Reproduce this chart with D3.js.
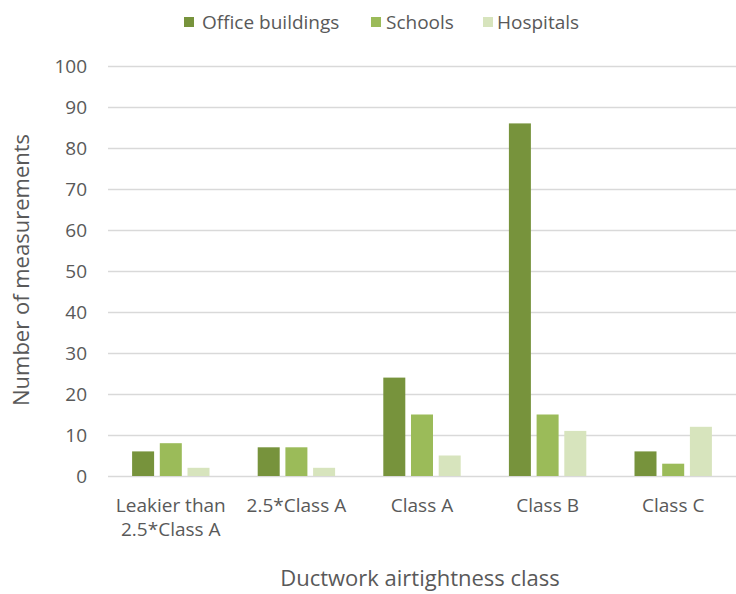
<!DOCTYPE html>
<html>
<head>
<meta charset="utf-8">
<script src="https://cdn.jsdelivr.net/npm/d3@7"></script>
<style>
  html, body { margin: 0; padding: 0; background: #fff; }
  svg text { font-family: "Open Sans", sans-serif; fill: #595959; }
</style>
</head>
<body>
<svg id="chart" width="736" height="594"></svg>
<script>
// Measurement counts per ductwork airtightness class
const categories = [["Leakier than", "2.5*Class A"], ["2.5*Class A"], ["Class A"], ["Class B"], ["Class C"]];
const seriesNames = ["Office buildings", "Schools", "Hospitals"];
const officeBuildings = [6, 7, 24, 86, 6];
const schools = [8, 7, 15, 15, 3];
const hospitals = [2, 2, 5, 11, 12];
const yTicks = [0, 10, 20, 30, 40, 50, 60, 70, 80, 90, 100];
const colors = ["#77933C", "#9BBB59", "#D7E4BD"];

const seriesValues = [officeBuildings, schools, hospitals];
const svg = d3.select("#chart");

const plot = { left: 108, right: 736, top: 66, bottom: 476 };
const catKeys = categories.map((c, i) => i);

const x = d3.scaleBand().domain(catKeys).range([plot.left, plot.right]).paddingInner(0).paddingOuter(0);
const y = d3.scaleLinear().domain([0, 100]).range([plot.bottom, plot.top]);

// Gridlines
svg.append("g").selectAll("line").data(yTicks).join("line")
  .attr("x1", plot.left).attr("x2", plot.right)
  .attr("y1", d => Math.round(y(d)) + 0.5).attr("y2", d => Math.round(y(d)) + 0.5)
  .attr("stroke", "#D9D9D9").attr("stroke-width", 1.3);

// Y-axis tick labels
const yAxis = d3.axisLeft(y).tickValues(yTicks).tickSize(0).tickPadding(0);
const yg = svg.append("g").attr("transform", `translate(87,0)`).call(yAxis);
yg.select(".domain").remove();
yg.selectAll("text").style("font-size", "19px").attr("fill", "#595959").attr("dy", "0.35em");

// Bars: three series side by side within each category band
const step = 27.7, barW = 22;
const groupOffset = (seriesNames.length * step - (step - barW)) / 2;
seriesValues.forEach((vals, si) => {
  svg.append("g").selectAll("rect").data(vals).join("rect")
    .attr("x", (d, i) => x(i) + x.bandwidth() / 2 - groupOffset + si * step)
    .attr("width", barW)
    .attr("y", d => y(d))
    .attr("height", d => y(0) - y(d))
    .attr("fill", colors[si]);
});

// Category labels (multi-line where needed)
const xl = svg.append("g");
categories.forEach((lines, i) => {
  const t = xl.append("text")
    .attr("x", x(i) + x.bandwidth() / 2)
    .attr("y", 512)
    .attr("text-anchor", "middle")
    .style("font-size", "19px");
  lines.forEach((ln, j) => {
    t.append("tspan").attr("x", x(i) + x.bandwidth() / 2).attr("dy", j === 0 ? 0 : 24).text(ln);
  });
});

// Axis titles
svg.append("text").attr("x", 420).attr("y", 586).attr("text-anchor", "middle")
  .style("font-size", "22px").text("Ductwork airtightness class");
svg.append("text").attr("transform", "translate(29,270) rotate(-90)").attr("text-anchor", "middle")
  .style("font-size", "22px").text("Number of measurements");

// Legend
const legendSwatchX = [184, 371, 483];
const legendTextX = [202, 386, 497];
const lg = svg.append("g");
seriesNames.forEach((name, i) => {
  lg.append("rect").attr("x", legendSwatchX[i]).attr("y", 17).attr("width", 10).attr("height", 10).attr("fill", colors[i]);
  lg.append("text").attr("x", legendTextX[i]).attr("y", 29).style("font-size", "19px").text(name);
});
</script>
</body>
</html>
